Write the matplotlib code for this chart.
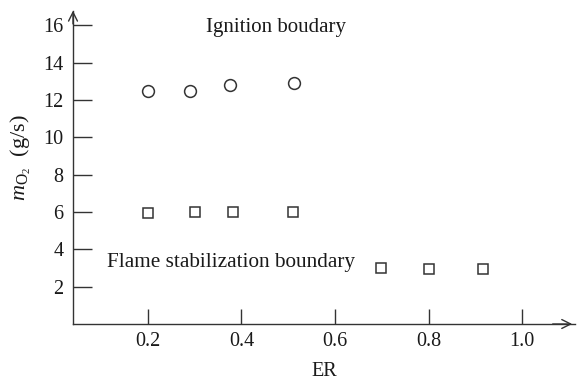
import matplotlib
matplotlib.use("Agg")
import matplotlib.pyplot as plt

plt.rcParams['font.family'] = ['Liberation Serif', 'DejaVu Serif']
plt.rcParams['mathtext.fontset'] = 'custom'
plt.rcParams['mathtext.rm'] = 'Liberation Serif'
plt.rcParams['mathtext.it'] = 'Liberation Serif:italic'

ignition_er = [0.2, 0.29, 0.375, 0.512]
ignition_m = [12.5, 12.5, 12.8, 12.9]
flame_er = [0.2, 0.30, 0.382, 0.511, 0.698, 0.80, 0.916]
flame_m = [5.95, 6.0, 6.0, 6.0, 2.98, 2.95, 2.95]
xticks = [0.2, 0.4, 0.6, 0.8, 1.0]
yticks = [2, 4, 6, 8, 10, 12, 14, 16]

col = '#333333'
tcol = '#1a1a1a'
fs = 14.5
fig = plt.figure(figsize=(5.78, 3.81), dpi=100)
ax = fig.add_axes([0.1263, 0.1496, 0.8685, 0.8215])
ax.plot(ignition_er, ignition_m, linestyle='none', marker='o', markersize=8.5,
        markerfacecolor='none', markeredgecolor=col, markeredgewidth=1.1, clip_on=False)
ax.plot(flame_er, flame_m, linestyle='none', marker='s', markersize=7.2,
        markerfacecolor='none', markeredgecolor=col, markeredgewidth=1.1, clip_on=False)

ax.set_xlim(0.04, 1.113)
ax.set_ylim(0, 16.77)
ax.set_xticks(xticks)
ax.set_xticklabels(['%.1f' % v for v in xticks])
ax.set_yticks(yticks)
ax.set_yticklabels([str(v) for v in yticks])
ax.tick_params(direction='in', length=11, width=1.0, color=col, labelsize=fs,
               labelcolor=tcol, pad=6)
ax.tick_params(axis='y', length=14, pad=7)
for s in ['top', 'right']:
    ax.spines[s].set_visible(False)
for s in ['left', 'bottom']:
    ax.spines[s].set_color(col)
    ax.spines[s].set_linewidth(1.0)

ax.annotate('', xy=(0, 1.01), xytext=(0, 0.95), xycoords='axes fraction',
            arrowprops=dict(arrowstyle='->', color=col, lw=1.0, mutation_scale=16),
            annotation_clip=False)
ax.annotate('', xy=(1.0, 0), xytext=(0.95, 0), xycoords='axes fraction',
            arrowprops=dict(arrowstyle='->', color=col, lw=1.0, mutation_scale=16),
            annotation_clip=False)

ax.set_xlabel('ER', fontsize=fs, color=tcol, labelpad=8)
ax.set_ylabel(r'$m_{\mathrm{O}_2}$  (g/s)', fontsize=fs + 1.5, color=tcol)
ax.yaxis.set_label_coords(-0.08, 0.533)

ax.text(0.474, 15.9, 'Ignition boudary', ha='center', va='center', fontsize=fs + 0.5, color=tcol)
ax.text(0.1125, 3.3, 'Flame stabilization boundary', ha='left', va='center', fontsize=fs + 0.8, color=tcol)

fig.savefig('out.png', dpi=100)
